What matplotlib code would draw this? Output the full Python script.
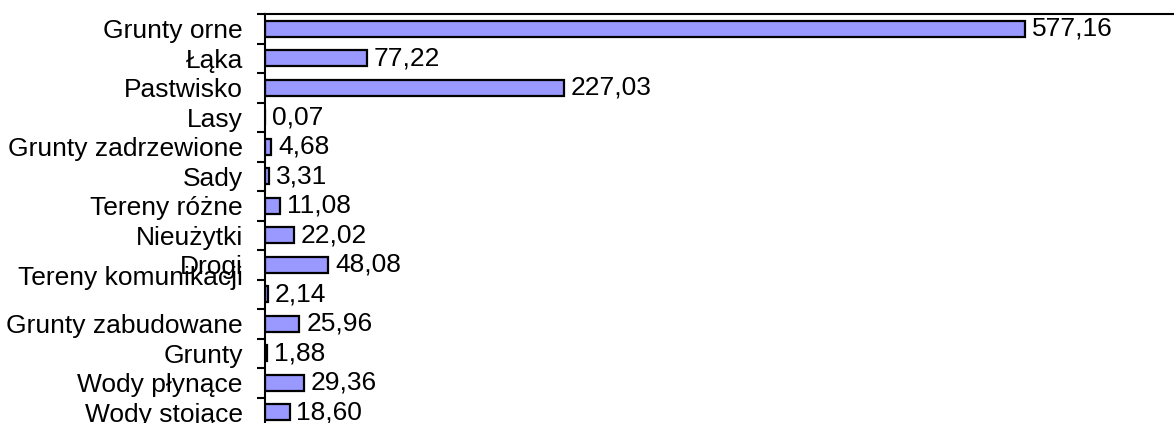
import matplotlib
matplotlib.use("Agg")
import matplotlib.pyplot as plt
import matplotlib.transforms as mtransforms
import numpy as np

categories = [
    "Grunty orne", "Łąka", "Pastwisko", "Lasy", "Grunty zadrzewione",
    "Sady", "Tereny różne", "Nieużytki", "Drogi", "Tereny komunikacji",
    "Grunty zabudowane", "Grunty", "Wody płynące", "Wody stojące",
]
values = [577.16, 77.22, 227.03, 0.07, 4.68, 3.31, 11.08, 22.02,
          48.08, 2.14, 25.96, 1.88, 29.36, 18.60]
value_labels = [f"{v:.2f}".replace(".", ",") for v in values]

plt.rcParams["font.family"] = ["Liberation Sans", "DejaVu Sans"]
FS = 19

fig = plt.figure(figsize=(11.74, 4.23), dpi=100)
ax = fig.add_axes([265 / 1174, -4 / 423, 1 - 265 / 1174, 413 / 423])

y = np.arange(len(categories))
ax.barh(y, values, height=0.55, color="#9999FF", edgecolor="black", linewidth=1.6)

for yi, v, lab in zip(y, values, value_labels):
    ax.annotate(lab, (v, yi), xytext=(5, 0), textcoords="offset points",
                va="center", ha="left", fontsize=FS)

ax.set_xlim(0, 690)
ax.set_ylim(len(categories) - 0.5, -0.5)

ax.set_yticks(y)
ax.set_yticklabels(categories, fontsize=FS)
ax.set_yticks(np.arange(len(categories) + 1) - 0.5, minor=True)
ax.tick_params(axis="y", which="major", length=0, pad=16)
ax.tick_params(axis="y", which="minor", length=6, width=1.5, direction="out")
ax.set_xticks([])

# the "Tereny komunikacji" label sits higher, overlapping "Drogi"
shift = mtransforms.ScaledTranslation(0, 19 / 100, fig.dpi_scale_trans)
lbl = ax.get_yticklabels()[9]
lbl.set_transform(lbl.get_transform() + shift)

for s in ["right", "bottom"]:
    ax.spines[s].set_visible(False)
ax.spines["left"].set_linewidth(1.5)
ax.spines["top"].set_linewidth(1.5)

fig.savefig("out.png", dpi=100)
